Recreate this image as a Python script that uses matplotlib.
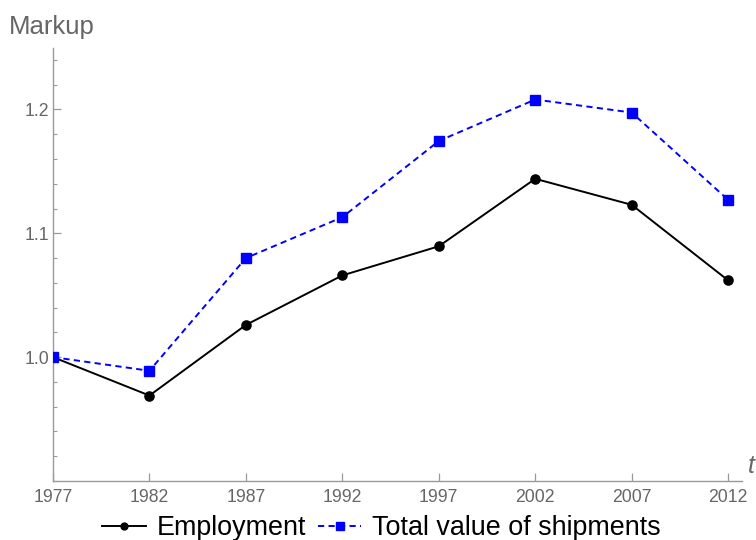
import matplotlib
matplotlib.use("Agg")
import matplotlib.pyplot as plt
from matplotlib.ticker import MultipleLocator

plt.rcParams['font.family'] = ['Liberation Sans', 'DejaVu Sans']

years = [1977, 1982, 1987, 1992, 1997, 2002, 2007, 2012]
employment = [1.000, 0.969, 1.026, 1.066, 1.0895, 1.144, 1.123, 1.062]
shipments = [1.000, 0.989, 1.080, 1.113, 1.1745, 1.208, 1.1975, 1.127]
ytick_vals = [1.0, 1.1, 1.2]
ytick_labels = ["1.0", "1.1", "1.2"]

fig = plt.figure(figsize=(7.56, 5.4), dpi=100)
ax = fig.add_axes([53/756, 1-481/540, (742-53)/756, (481-48)/540])

axis_gray = '#9a9a9a'
label_gray = '#666666'

ax.plot(years, employment, color='black', lw=1.4, marker='o', ms=6.6,
        label='Employment', zorder=3)
ax.plot(years, shipments, color='#0000ff', lw=1.4, ls=(0, (3.2, 2.2)),
        marker='s', ms=6.8, label='Total value of shipments', zorder=4)

ax.set_xlim(1977, 2012.72)
ax.set_ylim(0.9, 1.2496)
ax.set_xticks(years)
ax.set_xticklabels([str(y) for y in years])
ax.set_yticks(ytick_vals)
ax.set_yticklabels(ytick_labels)
ax.yaxis.set_minor_locator(MultipleLocator(0.02))

for s in ['top', 'right']:
    ax.spines[s].set_visible(False)
for s in ['left', 'bottom']:
    ax.spines[s].set_color(axis_gray)
    ax.spines[s].set_linewidth(1.0)

ax.tick_params(axis='both', which='major', direction='in', length=5.5,
               width=0.9, color=axis_gray, labelcolor=label_gray,
               labelsize=12.7)
ax.tick_params(axis='y', which='minor', direction='in', length=3,
               width=0.8, color=axis_gray)
ax.tick_params(axis='x', which='major', pad=5.5)
ax.tick_params(axis='y', which='major', pad=2.5)

fig.text(9/756, 1-27/540, 'Markup', color=label_gray, fontsize=18.5,
         ha='left', va='center')
fig.text(748/756, 1-466/540, 't', color=label_gray, fontsize=18,
         style='italic', ha='left', va='center')

fig.legend(loc='lower center', bbox_to_anchor=(0.505, -0.022), ncol=2,
           frameon=False, fontsize=19.4, handlelength=1.6,
           handletextpad=0.41, columnspacing=0.45, markerscale=0.75,
           borderaxespad=0.0)

fig.savefig('out.png', dpi=100)
